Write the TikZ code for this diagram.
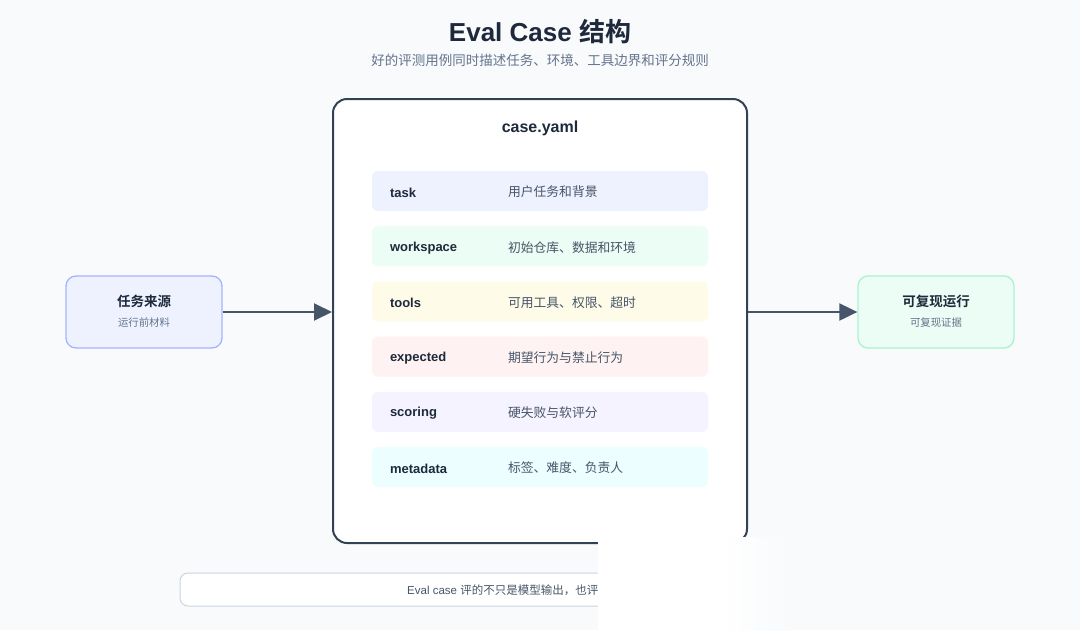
\documentclass[tikz,border=0pt]{standalone}
\usepackage{fontspec}
\setmainfont{Liberation Sans}
\newfontfamily\cjk{Noto Sans CJK SC}[BoldFont={Noto Sans CJK SC Bold}]
\usetikzlibrary{arrows.meta,positioning}
\definecolor{bg}{HTML}{F8FAFC}
\definecolor{ink}{HTML}{1E293B}
\definecolor{muted}{HTML}{64748B}
\definecolor{body}{HTML}{475569}
\definecolor{frame}{HTML}{334155}
\definecolor{rule}{HTML}{CBD5E1}
\definecolor{indigoA}{HTML}{EEF2FF}
\definecolor{indigoB}{HTML}{A5B4FC}
\definecolor{greenA}{HTML}{ECFDF5}
\definecolor{greenB}{HTML}{A7F3D0}
\definecolor{yellowA}{HTML}{FEFCE8}
\definecolor{redA}{HTML}{FEF2F2}
\definecolor{violetA}{HTML}{F5F3FF}
\definecolor{cyanA}{HTML}{ECFEFF}
\tikzset{>={Triangle[length=18pt,width=17pt]}}

\begin{document}
\begin{tikzpicture}[x=1pt,y=-1pt,
    side/.style={draw=#1,line width=1.3pt,rounded corners=10pt,minimum width=156pt,minimum height=72pt},
    rowbox/.style={fill=#1,rounded corners=6pt,minimum width=336pt,minimum height=40pt},
    link/.style={->,draw=body,line width=2pt}]
  \fill[bg] (0,0) rectangle (1080,630);
  \useasboundingbox (0,0) rectangle (1080,630);

  % Heading
  \node[text=ink,font=\fontsize{26}{30}\selectfont\bfseries] (head) at (540,32) {Eval Case {\cjk 结构}};
  \node[text=muted,font=\fontsize{13.5}{16}\selectfont\cjk] (sub) at (540,60) {好的评测用例同时描述任务、环境、工具边界和评分规则};

  % case.yaml
  \node[draw=frame,fill=white,line width=2pt,rounded corners=14pt,minimum width=414pt,minimum height=444pt] (yaml) at (540,321) {};
  \node[text=ink,font=\fontsize{16}{19}\selectfont\bfseries,below=19pt of yaml.north] (file) {case.yaml};
  \foreach \k/\d/\c [count=\i] in {task/用户任务和背景/indigoA,
      workspace/初始仓库、数据和环境/greenA,
      tools/可用工具、权限、超时/yellowA,
      expected/期望行为与禁止行为/redA,
      scoring/硬失败与软评分/violetA,
      metadata/标签、难度、负责人/cyanA}{
    \node[rowbox=\c] (r\i) at (540,{191+55.2*(\i-1)}) {};
    \node[anchor=west,inner sep=0pt,yshift=-1.5pt,text=ink,font=\fontsize{13}{15}\selectfont\bfseries,right=18pt of r\i.west] (k\i) {\k};
    \node[anchor=west,inner sep=0pt,yshift=-1pt,text=body,font=\fontsize{12.8}{15}\selectfont\cjk,right=136pt of r\i.west] (d\i) {\d};
  }

  % Source and result
  \node[side=indigoB,fill=indigoA] (src) at (144,312) {};
  \node[text=ink,font=\fontsize{13.5}{16}\selectfont\cjk\bfseries] (srct) at (144,301) {任务来源};
  \node[text=muted,font=\fontsize{10.4}{12}\selectfont\cjk] (srcs) at (144,323) {运行前材料};
  \node[side=greenB,fill=greenA] (run) at (936,312) {};
  \node[text=ink,font=\fontsize{13.5}{16}\selectfont\cjk\bfseries] (runt) at (936,301) {可复现运行};
  \node[text=muted,font=\fontsize{10.4}{12}\selectfont\cjk] (runs) at (936,323) {可复现证据};

  \draw[link] (src.east) -- (src.east -| yaml.west);
  \draw[link] (run.west -| yaml.east) -- (run.west);

  % Note
  \node[draw=rule,fill=white,line width=1pt,rounded corners=8pt,minimum width=560pt,minimum height=33pt] (note) at (460,589.5) {};
  \node[anchor=west,text=body,font=\fontsize{11.5}{13}\selectfont,inner sep=0pt] (notet) at (407,590) {Eval case {\cjk 评的不只是模型输出，也评}};
  \fill[white] (598,537) rectangle (720,630);
  \shade[left color=white,right color=bg] (720,537) rectangle (790,630);
\end{tikzpicture}
\end{document}
